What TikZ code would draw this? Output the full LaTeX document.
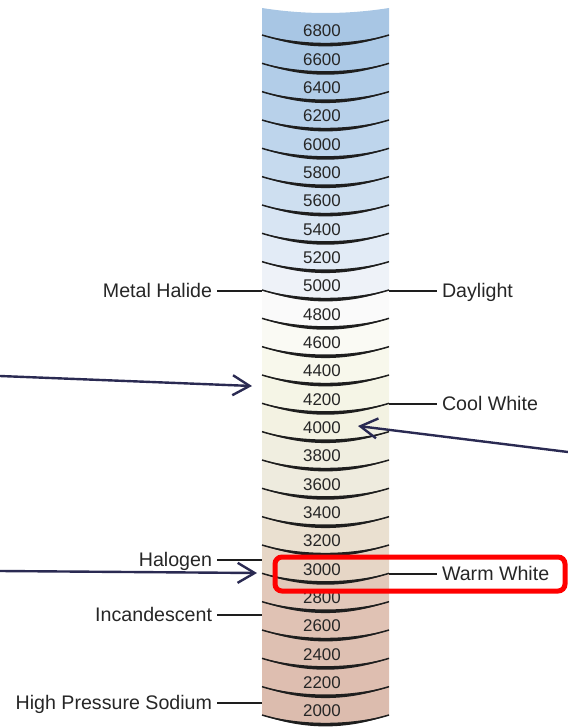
\documentclass[tikz,border=0pt]{standalone}
\usepackage{fontspec}
\setmainfont{Liberation Sans}
\usetikzlibrary{arrows.meta}

\definecolor{sepline}{RGB}{30,30,30}
\definecolor{txt}{RGB}{38,38,38}
\definecolor{pointer}{RGB}{42,42,82}
\definecolor{callout}{RGB}{255,0,0}

\begin{document}
\begin{tikzpicture}[x=1bp,y=-1bp,
  numlbl/.style={font=\fontsize{17}{17}\selectfont, text=txt, inner sep=0pt},
  lamplbl/.style={font=\fontsize{19.7}{20}\selectfont, text=txt, inner sep=0pt,
    text height=13.6bp, text depth=0pt, outer xsep=5bp, outer ysep=0pt},
  tick/.style={draw=sepline, line width=1.8bp},
  pointer arrow/.style={draw=pointer, line width=2.4bp, line cap=round,
    -{Straight Barb[length=17bp,width=20bp,line width=2.4bp]}},
  calloutbox/.style={draw=callout, line width=5bp, rounded corners=7bp},
]
\useasboundingbox (0,0) rectangle (568,728);

% column edges; control abscissae of the arcs (quadratic arc as a cubic)
\def\xl{262}
\def\xr{389}
\def\ca{304.33}
\def\cb{346.67}

% colour bands, one per temperature step
\foreach \t/\cR/\cG/\cB [count=\i from 0] in {
  6800/168/198/228, 6600/172/201/230, 6400/178/205/232, 6200/184/209/234,
  6000/190/213/236, 5800/198/218/238, 5600/206/223/240, 5400/216/229/243,
  5200/226/235/246, 5000/238/242/248, 4800/250/250/250, 4600/250/250/244,
  4400/248/248/236, 4200/245/245/230, 4000/243/242/226, 3800/240/238/224,
  3600/238/235/222, 3400/236/230/216, 3200/234/224/208, 3000/230/214/198,
  2800/226/200/186, 2600/224/194/180, 2400/222/192/178, 2200/222/190/176,
  2000/220/188/174}{
  \pgfmathsetmacro{\ylab}{31+\i*28.333}
  \pgfmathsetmacro{\ybot}{\ylab+4}
  \ifnum\i=0
    \def\ytop{8}\def\ytopc{14.67}
  \else
    \pgfmathsetmacro{\ytop}{\ylab-24.333}
    \pgfmathsetmacro{\ytopc}{\ytop+12.67}
  \fi
  \definecolor{bandc}{RGB}{\cR,\cG,\cB}
  \fill[bandc] (\xl,\ytop) .. controls (\ca,\ytopc) and (\cb,\ytopc) .. (\xr,\ytop)
    -- (\xr,\ybot) .. controls (\cb,\ybot+12.67) and (\ca,\ybot+12.67) .. (\xl,\ybot) -- cycle;
}

% curved dividers, heavier in the middle
\foreach \i in {0,...,24}{
  \pgfmathsetmacro{\ye}{35+\i*28.333}
  \fill[sepline] (\xl,\ye) .. controls (\ca,\ye+10.4) and (\cb,\ye+10.4) .. (\xr,\ye)
    .. controls (\cb,\ye+15.2) and (\ca,\ye+15.2) .. (\xl,\ye) -- cycle;
  \draw[sepline, line width=1.5bp] (\xl,\ye) .. controls (\ca,\ye+12.8) and (\cb,\ye+12.8) .. (\xr,\ye);
}

% temperature values
\foreach \t [count=\i from 0] in {6800,6600,6400,6200,6000,5800,5600,5400,5200,
  5000,4800,4600,4400,4200,4000,3800,3600,3400,3200,3000,2800,2600,2400,2200,2000}{
  \pgfmathsetmacro{\ylab}{31+\i*28.333}
  \node[numlbl] (k\t) at (322,\ylab) {\t};
}

% lamp types on the left
\node[lamplbl, anchor=east] (mh)  at (217,291) {Metal Halide};
\node[lamplbl, anchor=east] (hal) at (217,560) {Halogen};
\node[lamplbl, anchor=east] (inc) at (217,615) {Incandescent};
\node[lamplbl, anchor=east] (hps) at (217,703) {High Pressure Sodium};
\coordinate (mhE)  at (\xl,291);
\coordinate (halE) at (\xl,560);
\coordinate (incE) at (\xl,615);
\coordinate (hpsE) at (\xl,703);
\draw[tick] (mh.east)  -- (mhE);
\draw[tick] (hal.east) -- (halE);
\draw[tick] (inc.east) -- (incE);
\draw[tick] (hps.east) -- (hpsE);

% light names on the right
\node[lamplbl, anchor=west] (day)  at (437,291) {Daylight};
\node[lamplbl, anchor=west] (cool) at (437,404) {Cool White};
\node[lamplbl, anchor=west] (warm) at (437,574) {Warm White};
\coordinate (dayW)  at (\xr,291);
\coordinate (coolW) at (\xr,404);
\coordinate (warmW) at (\xr,574);
\draw[tick] (dayW)  -- (day.west);
\draw[tick] (coolW) -- (cool.west);
\draw[tick] (warmW) -- (warm.west);

% pointer arrows
\coordinate (p1s) at (0,376);   \coordinate (p1t) at (252,386);
\coordinate (p2s) at (0,571);   \coordinate (p2t) at (257,573);
\coordinate (p3s) at (568,452); \coordinate (p3t) at (358,426);
\draw[pointer arrow] (p1s) -- (p1t);
\draw[pointer arrow] (p2s) -- (p2t);
\draw[pointer arrow] (p3s) -- (p3t);

% highlight around the warm white step
\coordinate (hlA) at (275,557);
\coordinate (hlB) at (565,591);
\draw[calloutbox] (hlA) rectangle (hlB);
\end{tikzpicture}
\end{document}
